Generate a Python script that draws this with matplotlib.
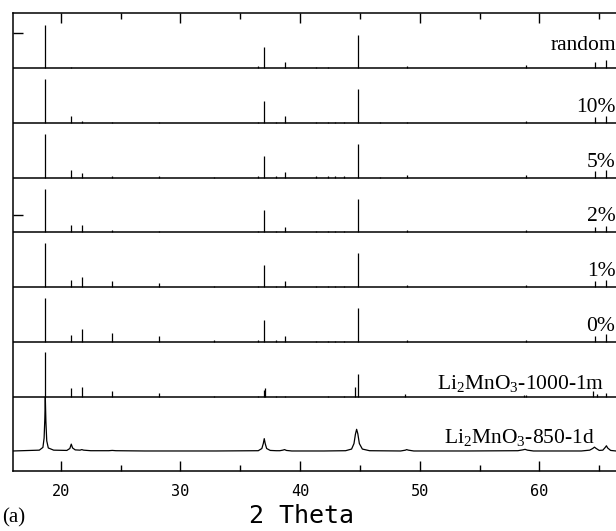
import matplotlib
matplotlib.use("Agg")
import matplotlib.pyplot as plt

plt.rcParams["mathtext.fontset"] = "custom"
plt.rcParams["mathtext.rm"] = "Liberation Serif"
plt.rcParams["mathtext.it"] = "Liberation Serif"

# ------------------------------------------
# DATA (peak heights in units of one panel)
# ------------------------------------------
peak_pos = [18.7, 20.87, 21.77, 24.3, 28.2, 32.8, 36.5, 37.0, 38.0, 38.7,
            41.3, 42.3, 42.9, 43.7, 44.8, 46.7, 48.9, 58.9, 64.65, 65.6]

h_random = [0.78, 0.02, 0.00, 0.00, 0.00, 0.00, 0.03, 0.38, 0.00, 0.10,
            0.02, 0.01, 0.00, 0.00, 0.60, 0.00, 0.04, 0.05, 0.11, 0.14]
h_10 = [0.79, 0.13, 0.04, 0.01, 0.01, 0.00, 0.02, 0.40, 0.01, 0.12,
        0.02, 0.02, 0.02, 0.02, 0.61, 0.01, 0.02, 0.03, 0.10, 0.12]
h_5 = [0.80, 0.13, 0.08, 0.03, 0.02, 0.01, 0.02, 0.40, 0.02, 0.11,
       0.02, 0.02, 0.02, 0.02, 0.62, 0.01, 0.04, 0.04, 0.12, 0.14]
h_2 = [0.80, 0.13, 0.14, 0.05, 0.03, 0.01, 0.02, 0.40, 0.02, 0.10,
       0.02, 0.02, 0.02, 0.02, 0.61, 0.01, 0.04, 0.04, 0.10, 0.12]
h_1 = [0.80, 0.13, 0.18, 0.11, 0.07, 0.02, 0.03, 0.40, 0.02, 0.11,
       0.02, 0.02, 0.02, 0.02, 0.62, 0.01, 0.04, 0.04, 0.12, 0.14]
h_0 = [0.80, 0.13, 0.23, 0.17, 0.11, 0.03, 0.03, 0.40, 0.04, 0.11,
       0.02, 0.02, 0.02, 0.02, 0.62, 0.01, 0.04, 0.04, 0.12, 0.14]

pos_1000 = [18.7, 20.87, 21.77, 24.3, 28.2, 32.8, 36.5, 36.95, 37.05, 38.0,
            38.7, 42.3, 43.7, 44.55, 44.8, 48.8, 58.7, 58.9, 64.5, 64.8, 65.6]
h_1000 = [0.82, 0.16, 0.18, 0.11, 0.07, 0.02, 0.02, 0.12, 0.16, 0.02,
          0.02, 0.01, 0.01, 0.19, 0.42, 0.05, 0.03, 0.04, 0.10, 0.06, 0.08]

x_850 = [16.0, 18.2, 18.5, 18.6, 18.66, 18.7, 18.75, 18.82, 18.95, 19.4,
         20.5, 20.75, 20.87, 20.98, 21.2, 21.6, 21.75, 21.9, 22.5,
         24.0, 24.3, 24.6, 27.0, 30.0, 33.0,
         36.5, 36.8, 36.92, 37.0, 37.08, 37.2, 37.5, 38.0, 38.3, 38.55, 38.7, 38.85, 39.3,
         42.0, 43.8, 44.3, 44.5, 44.62, 44.72, 44.82, 44.95, 45.2, 45.8,
         48.4, 48.8, 48.9, 49.05, 49.5, 54.0, 58.2, 58.6, 58.8, 59.0, 59.5,
         63.5, 64.2, 64.45, 64.6, 64.75, 65.0, 65.3, 65.5, 65.6, 65.7, 65.95, 66.4]
y_850 = [0.015, 0.03, 0.08, 0.25, 0.6, 1.0, 0.55, 0.2, 0.07, 0.03,
         0.025, 0.06, 0.14, 0.07, 0.035, 0.03, 0.04, 0.03, 0.02,
         0.02, 0.025, 0.02, 0.015, 0.015, 0.015,
         0.02, 0.06, 0.15, 0.24, 0.15, 0.06, 0.025, 0.02, 0.02, 0.03, 0.04, 0.025, 0.015,
         0.015, 0.02, 0.05, 0.15, 0.32, 0.41, 0.33, 0.15, 0.05, 0.02,
         0.015, 0.03, 0.04, 0.03, 0.015, 0.015, 0.02, 0.035, 0.045, 0.03, 0.015,
         0.015, 0.03, 0.06, 0.085, 0.06, 0.025, 0.03, 0.08, 0.11, 0.07, 0.025, 0.015]

stick_sets = [h_0, h_1, h_2, h_5, h_10, h_random]
stick_labels = ["0%", "1%", "2%", "5%", "10%", "random"]

# ------------------------------------------
# PLOT
# ------------------------------------------
fig = plt.figure(figsize=(6.16, 5.31), dpi=100)
ax = fig.add_axes([13 / 616, 1 - 471 / 531, 1 - 13 / 616, (471 - 13) / 531])

xmin, xmax = 16.0, 66.4
lw_base = 1.1

# experimental 850-1d
ax.plot(x_850, y_850, color="black", lw=0.9)
ax.text(52.04, 0.16, "Li$_2$MnO$_3$-850-1d", family="Liberation Serif",
        fontsize=15.5, ha="left", va="baseline")

# 1000-1m
off = 1
ax.axhline(off, color="black", lw=lw_base)
ax.vlines(pos_1000, off, [off + h for h in h_1000], color="black", lw=0.9)
ax.text(51.45, off + 0.15, "Li$_2$MnO$_3$-1000-1m", family="Liberation Serif",
        fontsize=15.5, ha="left", va="baseline")

# simulated patterns
for i, (hs, lab) in enumerate(zip(stick_sets, stick_labels)):
    off = i + 2
    ax.axhline(off, color="black", lw=lw_base)
    ax.vlines(peak_pos, off, [off + h for h in hs], color="black", lw=0.9)
    if lab == "random":
        ax.text(66.4, off + 0.32, lab, family="Liberation Serif", fontsize=15.5,
                ha="right", va="baseline", clip_on=False)
    else:
        ax.text(66.35, off + 0.2, lab, family="Liberation Serif", fontsize=15.5,
                ha="right", va="baseline", clip_on=False)

ax.set_xlim(xmin, xmax)
ax.set_ylim(-0.35, 8.0)

ax.spines["right"].set_visible(False)
for s in ["left", "top", "bottom"]:
    ax.spines[s].set_linewidth(1.1)

ax.set_xticks([20, 30, 40, 50, 60])
ax.set_xticks([25, 35, 45, 55, 65], minor=True)
ax.set_yticks([4.31, 7.64])
ax.set_yticklabels([])
ax.tick_params(axis="x", which="major", direction="in", length=7, width=1,
               top=True, bottom=True, labelsize=11, pad=9)
ax.tick_params(axis="x", which="minor", direction="in", length=4, width=1,
               top=True, bottom=True)
ax.tick_params(axis="y", which="major", direction="in", length=7, width=1)
for t in ax.get_xticklabels():
    t.set_family("DejaVu Sans Mono")

ax.set_xlabel("2 Theta", family="DejaVu Sans Mono", fontsize=18)
ax.xaxis.set_label_coords(0.479, -0.072)
fig.text(2 / 616, 1 - 518 / 531, "(a)", family="Liberation Serif", fontsize=15,
         ha="left", va="center")

plt.savefig("out.png", dpi=100)
plt.close()
